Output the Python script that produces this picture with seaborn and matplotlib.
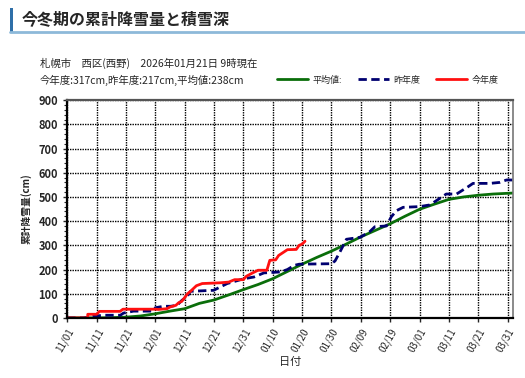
import matplotlib
matplotlib.use("Agg")
import matplotlib.pyplot as plt
import seaborn as sns
import pandas as pd
from matplotlib.lines import Line2D
from matplotlib.patches import Rectangle

# days counted from 11/01
tick_days = [0, 10, 20, 30, 40, 50, 60, 70, 80, 90, 100, 110, 120, 130, 140, 150]
tick_labels = ["11/01", "11/11", "11/21", "12/01", "12/11", "12/21", "12/31", "01/10",
               "01/20", "01/30", "02/09", "02/19", "03/01", "03/11", "03/21", "03/31"]

# 今年度 (this season)
this_days = [0, 7, 7, 10, 11, 18, 19, 30, 31, 34, 35, 37, 38, 39, 41, 42, 44, 46, 52, 55,
             57, 60, 61, 63, 65, 68, 69, 71, 72, 75, 78, 79, 80, 81]
this_vals = [0, 0, 15, 15, 27, 27, 36, 36, 35, 38, 45, 52, 63, 68, 100, 110, 133, 142, 145, 148,
             158, 158, 172, 185, 197, 197, 238, 240, 258, 282, 283, 300, 305, 317]

# 昨年度 (last season)
last_days = [0, 5.6, 9, 12.4, 18.1, 19.2, 22.6, 29.5, 30, 32.8, 35.2, 37.4, 39.1, 40.8, 42,
             49.9, 51, 54.5, 60.2, 63.6, 67, 72.7, 75, 77.3, 79, 89.9, 91.2, 92.9, 95.1, 99.7,
             103, 104.8, 108.7, 110.4, 112.1, 114.4, 120, 123.5, 126.9, 129.1, 132.6, 136.5,
             138.2, 143.9, 147.3, 149.6, 151.8]
last_vals = [0, 0, 7, 11, 11, 20, 28, 28, 42, 48, 48, 52, 73, 87, 110,
             114, 121, 142, 162, 169, 186, 190, 200, 217, 222, 224, 235, 273, 325, 333,
             356, 377, 380, 418, 443, 457, 460, 467, 494, 512, 512, 542,
             556, 556, 560, 570, 570]

# 平均値 (average)
avg_days = [0, 10, 15, 20, 25, 30, 35, 40, 45, 50, 55, 60, 65, 70, 75, 80, 85, 90, 95, 100,
            105, 110, 115, 120, 125, 130, 135, 140, 145, 150, 151.8]
avg_vals = [0, 0, 1, 3, 8, 17, 28, 38, 60, 74, 95, 117, 138, 162, 192, 222, 250, 276, 305, 335,
            362, 389, 420, 449, 470, 490, 500, 507, 512, 515, 516]

sns.set_style("white")
plt.rcParams['font.family'] = ['Noto Sans CJK JP', 'DejaVu Sans']

fig = plt.figure(figsize=(5.25, 3.78), dpi=100)
ax = fig.add_axes([0.128, 0.159, 0.849, 0.576])

green = "#0a6e0a"
navy = "#000070"
red = "#ff1010"

sns.lineplot(x=avg_days, y=avg_vals, ax=ax, color=green, lw=2.0, estimator=None, sort=False)
sns.lineplot(x=last_days, y=last_vals, ax=ax, color=navy, lw=2.0, estimator=None, sort=False,
             linestyle=(0, (3, 1.6)))
sns.lineplot(x=this_days, y=this_vals, ax=ax, color=red, lw=2.0, estimator=None, sort=False)

ax.set_xlim(0, 151.8)
ax.set_ylim(0, 900)
ax.set_xticks(tick_days)
ax.set_xticklabels(tick_labels, rotation=60, ha="right", rotation_mode="anchor", fontsize=7)
ax.set_yticks(range(0, 901, 100))
ax.set_yticks(range(0, 901, 20), minor=True)
ax.tick_params(axis="y", which="major", labelsize=8, length=3, width=1, direction="out", left=True)
ax.tick_params(axis="y", which="minor", length=2, width=0.8, direction="out", left=True)
ax.tick_params(axis="x", which="major", length=3, width=1, direction="out", bottom=True, pad=3)
for lab in ax.get_yticklabels():
    lab.set_fontweight("bold")

ax.grid(True, which="major", color="black", linestyle=(0, (1, 0.8)), linewidth=1.0)
ax.set_axisbelow(True)

for side in ["left", "bottom"]:
    ax.spines[side].set_color("black")
    ax.spines[side].set_linewidth(1.6)
ax.spines["top"].set_color("#555555")
ax.spines["top"].set_linewidth(1.6)
ax.spines["right"].set_color("#777777")
ax.spines["right"].set_linewidth(1.2)

ax.set_ylabel("累計降雪量(cm)", fontsize=7, fontweight="bold", labelpad=5)
ax.set_xlabel("日付", fontsize=8, labelpad=2)

# header
fig.add_artist(Rectangle((10 / 525, 1 - 32 / 378), 3 / 525, 24 / 378, transform=fig.transFigure,
                         color="#2f6fa8", lw=0))
fig.add_artist(Line2D([10 / 525, 1.0], [1 - 32 / 378, 1 - 32 / 378], transform=fig.transFigure,
                      color="#8db9d9", lw=2))
fig.text(22 / 525, 1 - 19 / 378, "今冬期の累計降雪量と積雪深", fontsize=11.5, fontweight="bold",
         va="center", ha="left")

fig.text(40 / 525, 1 - 63 / 378, "札幌市　西区(西野)　2026年01月21日 9時現在", fontsize=7.5,
         va="center", ha="left")
fig.text(40 / 525, 1 - 80 / 378, "今年度:317cm,昨年度:217cm,平均値:238cm", fontsize=7.5,
         va="center", ha="left")

handles = [Line2D([], [], color=green, lw=2),
           Line2D([], [], color=navy, lw=2, linestyle=(0, (3, 1.6))),
           Line2D([], [], color=red, lw=2)]
fig.legend(handles, ["平均値:", "昨年度", "今年度"], ncol=3, frameon=False, fontsize=6.5,
           loc="center right", bbox_to_anchor=(0.965, 1 - 80 / 378), handlelength=3.4,
           handletextpad=0.5, columnspacing=1.8)

fig.savefig("out.png", dpi=100)
